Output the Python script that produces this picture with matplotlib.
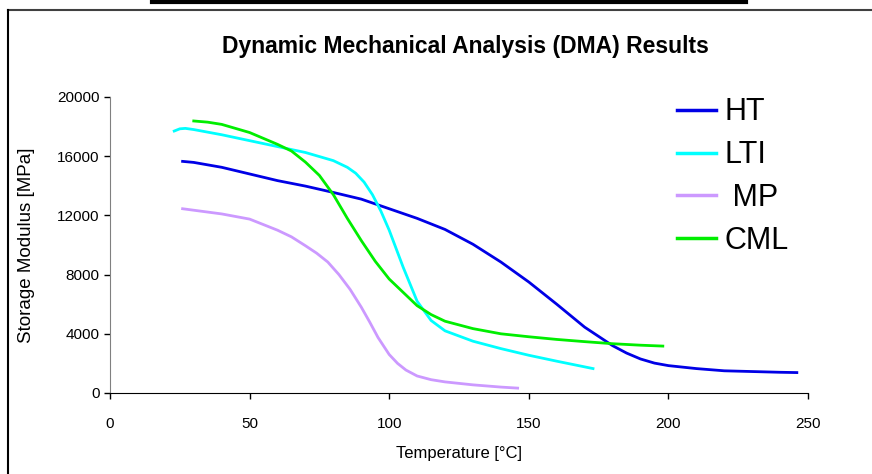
import numpy as np
import matplotlib
matplotlib.use("Agg")
import matplotlib.pyplot as plt
from matplotlib.lines import Line2D

# --- data ---
ht_T = [26, 30, 40, 50, 60, 70, 80, 90, 100, 110, 120, 130, 140, 150, 160, 170,
        180, 185, 190, 195, 200, 210, 220, 230, 240, 246]
ht_E = [15650, 15580, 15250, 14800, 14350, 13980, 13550, 13100, 12450, 11800,
        11050, 10050, 8850, 7500, 6000, 4450, 3200, 2700, 2300, 2020, 1850, 1650,
        1500, 1450, 1400, 1380]

lti_T = [23, 25, 27, 30, 40, 50, 60, 70, 80, 85, 88, 91, 94, 97, 100, 105, 110,
         115, 120, 130, 140, 150, 160, 173]
lti_E = [17700, 17850, 17880, 17800, 17450, 17050, 16650, 16250, 15700, 15250,
         14850, 14250, 13400, 12300, 11000, 8500, 6200, 4900, 4200, 3500, 3000,
         2550, 2150, 1650]

mp_T = [26, 30, 40, 50, 60, 65, 70, 74, 78, 82, 86, 90, 93, 96, 100, 103, 106,
        110, 115, 120, 130, 140, 146]
mp_E = [12450, 12350, 12100, 11750, 11000, 10550, 9950, 9450, 8850, 8000, 7000,
        5800, 4800, 3750, 2600, 2000, 1550, 1150, 900, 750, 550, 400, 330]

cml_T = [30, 35, 40, 50, 60, 65, 70, 75, 80, 85, 90, 95, 100, 105, 110, 115, 120,
         130, 140, 150, 160, 170, 180, 190, 198]
cml_E = [18380, 18300, 18150, 17600, 16800, 16350, 15600, 14700, 13400, 11800,
         10300, 8900, 7700, 6800, 5900, 5300, 4850, 4350, 4000, 3800, 3620, 3470,
         3330, 3230, 3170]

x_ticks = [0, 50, 100, 150, 200, 250]
y_ticks = [0, 4000, 8000, 12000, 16000, 20000]

plt.rcParams['font.family'] = ['Liberation Sans', 'DejaVu Sans']

W, H = 872, 474
fig = plt.figure(figsize=(W / 100, H / 100), dpi=100)
ax = fig.add_axes([110 / W, 1 - 393 / H, (808 - 110) / W, (393 - 97) / H])

ax.plot(ht_T, ht_E, color='#0000E6', lw=2, label='HT')
ax.plot(lti_T, lti_E, color='#00FFFF', lw=2, label='LTI')
ax.plot(mp_T, mp_E, color='#CC99FF', lw=2, label=' MP')
ax.plot(cml_T, cml_E, color='#00EE00', lw=2, label='CML')

ax.set_xlim(0, 250)
ax.set_ylim(0, 20000)
ax.set_xticks(x_ticks)
ax.set_yticks(y_ticks)
ax.tick_params(labelsize=11, length=4, width=1, direction='out')
ax.tick_params(axis='x', pad=13)
ax.spines['top'].set_visible(False)
ax.spines['right'].set_visible(False)
ax.spines['left'].set_color('#808080')
ax.spines['bottom'].set_color('black')
ax.set_xlabel('Temperature [°C]', fontsize=12, labelpad=11)
ax.set_ylabel('Storage Modulus [MPa]', fontsize=13.5, labelpad=16)

leg = ax.legend(loc='upper left', bbox_to_anchor=(649 / W, 1 - 70 / H),
                bbox_transform=fig.transFigure, frameon=False, fontsize=22,
                handlelength=1.3, handletextpad=0.26, labelspacing=0.42)
for h in leg.get_lines():
    h.set_linewidth(2.5)

fig.text(465 / W, 1 - 47 / H, 'Dynamic Mechanical Analysis (DMA) Results',
         ha='center', va='center', fontsize=16.5, fontweight='bold')

# surrounding frame lines and the top bar
fig.add_artist(Line2D([8 / W, 1], [1 - 9.5 / H, 1 - 9.5 / H],
                      transform=fig.transFigure, color='#404040', lw=1.5))
fig.add_artist(Line2D([8 / W, 8 / W], [0, 1 - 9.5 / H],
                      transform=fig.transFigure, color='black', lw=1.5))
fig.add_artist(Line2D([152 / W, 746 / W], [1 - 1.5 / H, 1 - 1.5 / H],
                      transform=fig.transFigure, color='black', lw=3))

fig.savefig('out.png', dpi=100)
